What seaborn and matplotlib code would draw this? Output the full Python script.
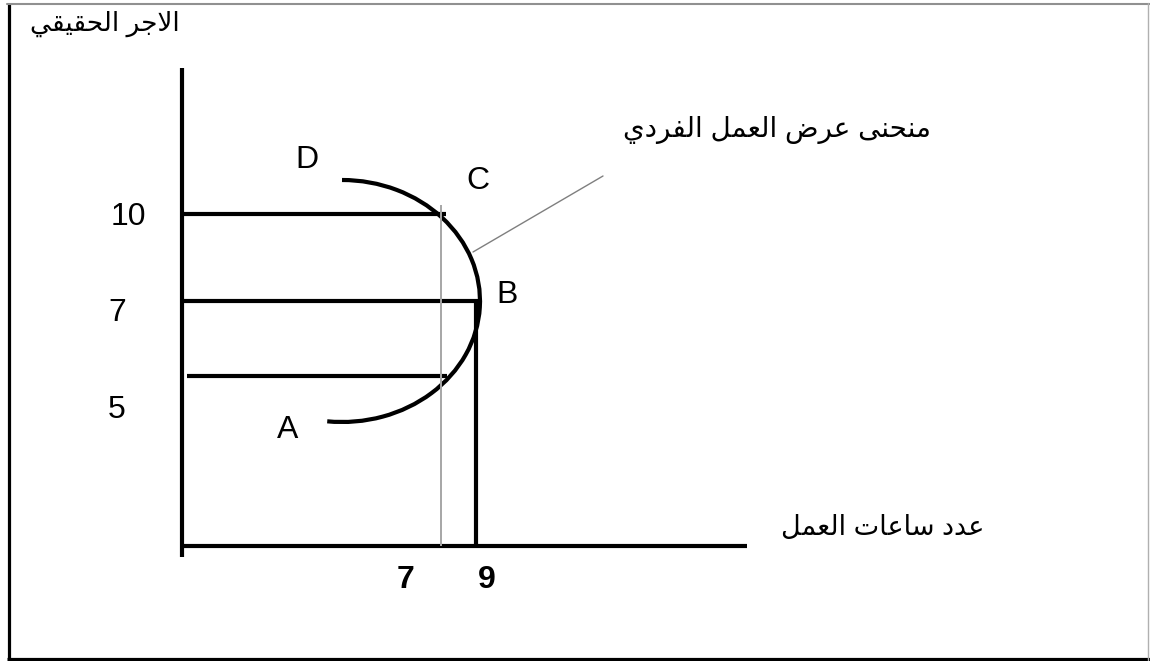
import matplotlib
matplotlib.use("Agg")
import matplotlib.pyplot as plt
from matplotlib.patches import Arc
import seaborn as sns

# diagram geometry, in pixel units of the 1150x661 picture (y grows downward)
wage_labels = ["10", "7", "5"]
wage_label_x = [128, 117, 117]
wage_label_y = [217, 313, 410]
wage_line_y = [214, 301, 376]
wage_line_x0 = [183, 183, 187]
wage_line_x1 = [446, 481, 447]

hour_labels = ["7", "9"]
hour_label_x = [405, 487]
hour_label_y = 580
hour_line_x = [441, 476]
hour_line_top = [205, 300]
hour_line_color = ["#a6a6a6", "black"]
hour_line_width = [1.4, 3.0]

point_labels = ["D", "C", "B", "A"]
point_x = [307, 478, 507, 288]
point_y = [160, 181, 295, 430]

# supply curve drawn as an ellipse arc: centre, radii, start/end angle
curve_centre = (342, 301)
curve_rx = 138
curve_ry = 121
curve_theta = (-90, 97)

leader_x = [473, 603]
leader_y = [252, 176]

y_title = "الاجر الحقيقي"
x_title = "عدد ساعات العمل"
curve_title = "منحنى عرض العمل الفردي"

# presentation forms: isolated, final, initial, medial
FORMS = {
    'ا': (0xFE8D, 0xFE8E, None, None),
    'ت': (0xFE95, 0xFE96, 0xFE97, 0xFE98),
    'ج': (0xFE9D, 0xFE9E, 0xFE9F, 0xFEA0),
    'ح': (0xFEA1, 0xFEA2, 0xFEA3, 0xFEA4),
    'د': (0xFEA9, 0xFEAA, None, None),
    'ر': (0xFEAD, 0xFEAE, None, None),
    'س': (0xFEB1, 0xFEB2, 0xFEB3, 0xFEB4),
    'ض': (0xFEBD, 0xFEBE, 0xFEBF, 0xFEC0),
    'ع': (0xFEC9, 0xFECA, 0xFECB, 0xFECC),
    'ف': (0xFED1, 0xFED2, 0xFED3, 0xFED4),
    'ق': (0xFED5, 0xFED6, 0xFED7, 0xFED8),
    'ل': (0xFEDD, 0xFEDE, 0xFEDF, 0xFEE0),
    'م': (0xFEE1, 0xFEE2, 0xFEE3, 0xFEE4),
    'ن': (0xFEE5, 0xFEE6, 0xFEE7, 0xFEE8),
    'ى': (0xFEEF, 0xFEF0, None, None),
    'ي': (0xFEF1, 0xFEF2, 0xFEF3, 0xFEF4),
}


def shape(text):
    # join the letters and put them in visual (left to right) order
    out = []
    i = 0
    while i < len(text):
        c = text[i]
        if c not in FORMS:
            out.append(c)
            i += 1
            continue
        prev = text[i - 1] if i > 0 else None
        join_prev = prev in FORMS and FORMS[prev][2] is not None
        if c == 'ل' and i + 1 < len(text) and text[i + 1] == 'ا':
            out.append(chr(0xFEFC if join_prev else 0xFEFB))
            i += 2
            continue
        nxt = text[i + 1] if i + 1 < len(text) else None
        iso, fin, ini, med = FORMS[c]
        join_next = ini is not None and nxt in FORMS
        if join_prev and join_next:
            code = med
        elif join_prev:
            code = fin
        elif join_next:
            code = ini
        else:
            code = iso
        out.append(chr(code))
        i += 1
    return ''.join(reversed(out))


sns.set_theme(style="white")
plt.rcParams['font.family'] = ['Liberation Sans', 'DejaVu Sans']

fig = plt.figure(figsize=(11.5, 6.61), dpi=100)
ax = fig.add_axes([0, 0, 1, 1])
ax.set_xlim(0, 1150)
ax.set_ylim(661, 0)
ax.axis('off')

# frame around the picture
ax.plot([8.5, 8.5], [3, 659], color='black', lw=2.3, solid_capstyle='butt')
ax.plot([7, 1150], [658.5, 658.5], color='black', lw=2.3, solid_capstyle='butt')
ax.plot([7, 1150], [4, 4], color='#909090', lw=1.5)
ax.plot([1148, 1148], [3, 660], color='#b0b0b0', lw=1)

# axes of the diagram
ax.plot([182, 182], [68, 557], color='black', lw=3.0, solid_capstyle='butt')
ax.plot([182, 747], [546, 546], color='black', lw=3.0, solid_capstyle='butt')

for y, x0, x1 in zip(wage_line_y, wage_line_x0, wage_line_x1):
    ax.plot([x0, x1], [y, y], color='black', lw=3.0, solid_capstyle='butt')

for x, top, col, w in zip(hour_line_x, hour_line_top, hour_line_color, hour_line_width):
    ax.plot([x, x], [top, 546], color=col, lw=w, solid_capstyle='butt')

ax.add_patch(Arc(curve_centre, 2 * curve_rx, 2 * curve_ry, theta1=curve_theta[0],
                 theta2=curve_theta[1], color='black', lw=3.0))
ax.plot(leader_x, leader_y, color='#7f7f7f', lw=1)

for lab, x, y in zip(wage_labels, wage_label_x, wage_label_y):
    ax.text(x, y, lab, fontsize=23, ha='center', va='center', color='black')
for lab, x in zip(hour_labels, hour_label_x):
    ax.text(x, hour_label_y, lab, fontsize=23, fontweight='bold', ha='center',
            va='center', color='black')
for lab, x, y in zip(point_labels, point_x, point_y):
    ax.text(x, y, lab, fontsize=23, ha='center', va='center', color='black')

ax.text(105, 24, shape(y_title), fontsize=19, ha='center', va='center', color='black')
ax.text(777, 130, shape(curve_title), fontsize=20, ha='center', va='center', color='black')
ax.text(883, 528, shape(x_title), fontsize=19.5, ha='center', va='center', color='black')

fig.savefig('out.png', dpi=100)
